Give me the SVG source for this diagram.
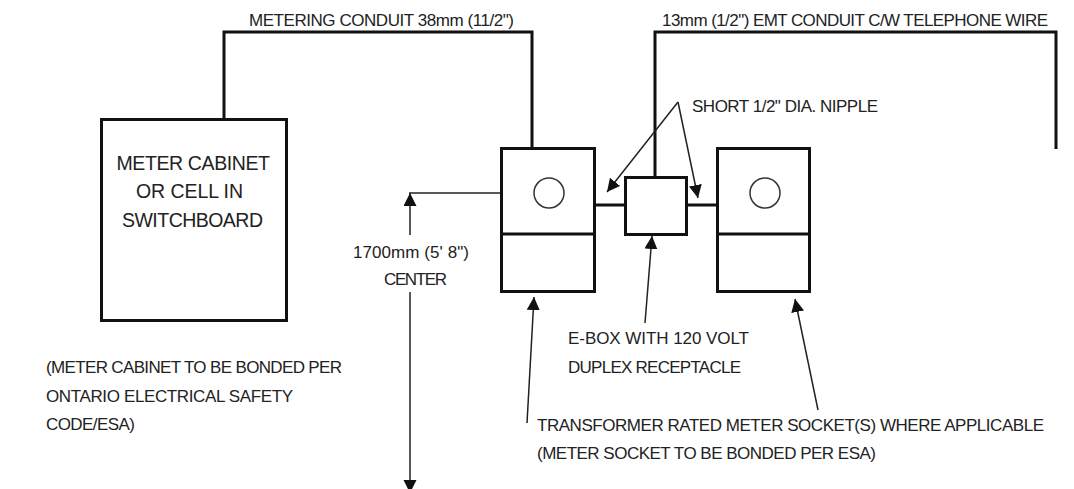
<svg xmlns="http://www.w3.org/2000/svg" width="1074" height="489" viewBox="0 0 1074 489">
<style>
text{font-family:"Liberation Sans",Arial,sans-serif;font-size:17px;fill:#222}
.big{font-size:19.500px}
.b{fill:#fff;stroke:#111;stroke-width:3}
.c{fill:none;stroke:#111;stroke-width:3}
.t{fill:none;stroke:#222;stroke-width:1.5}
.o{fill:#fff;stroke:#333;stroke-width:1.5}
</style>
<defs><marker id="a" markerUnits="userSpaceOnUse" markerWidth="14" markerHeight="14" refX="13" refY="6.500" orient="auto"><path d="M0 0L13 6.500L0 13z" fill="#111"/></marker></defs>
<rect width="1074" height="489" fill="#fff"/>
<g id="connectors">
<path class="c" d="M224 119V32H532V148"/>
<path class="c" d="M655 177V32H1056V149"/>
<path class="c" d="M595 205H625M687 205H717"/>
<path class="t" d="M501 193H409"/>
<path class="t" d="M410 235V193" marker-end="url(#a)"/>
<path class="t" d="M410 292V493" marker-end="url(#a)"/>
<path class="t" d="M678 102L607 192" marker-end="url(#a)"/>
<path class="t" d="M678 102L698 198" marker-end="url(#a)"/>
<path class="t" d="M645 323L652 236" marker-end="url(#a)"/>
<path class="t" d="M527 423L534 297" marker-end="url(#a)"/>
<path class="t" d="M818 410L795 299" marker-end="url(#a)"/>
</g>
<g id="meter-cabinet"><rect class="b" x="101.500" y="119.500" width="185" height="201"/>
<text class="big" x="116.500" y="169.500" textLength="153.500">METER CABINET</text>
<text class="big" x="136" y="198" textLength="107">OR CELL IN</text>
<text class="big" x="122" y="227" textLength="141">SWITCHBOARD</text></g>
<g id="socket-left"><rect class="b" x="501.500" y="148.500" width="93" height="143"/><path class="c" d="M501 234H595"/><circle class="o" cx="549" cy="193" r="15"/></g>
<g id="e-box"><rect class="b" x="625.500" y="177.500" width="61" height="57"/></g>
<g id="socket-right"><rect class="b" x="717.500" y="148.500" width="92" height="143"/><path class="c" d="M717 234H810"/><circle class="o" cx="765" cy="193" r="15"/></g>
<g id="labels">
<text x="249" y="26" textLength="265">METERING CONDUIT 38mm (11/2")</text>
<text x="662" y="26" textLength="386">13mm (1/2") EMT CONDUIT C/W TELEPHONE WIRE</text>
<text x="692" y="112" textLength="186">SHORT 1/2" DIA. NIPPLE</text>
<text x="353" y="258" textLength="116">1700mm (5' 8")</text>
<text x="384" y="285" textLength="63">CENTER</text>
<text x="568" y="344" textLength="181">E-BOX WITH 120 VOLT</text>
<text x="568" y="373" textLength="173">DUPLEX RECEPTACLE</text>
<text x="46" y="373" textLength="296">(METER CABINET TO BE BONDED PER</text>
<text x="46" y="402" textLength="247">ONTARIO ELECTRICAL SAFETY</text>
<text x="46" y="430" textLength="89">CODE/ESA)</text>
<text x="537" y="431" textLength="507">TRANSFORMER RATED METER SOCKET(S) WHERE APPLICABLE</text>
<text x="537" y="459" textLength="339">(METER SOCKET TO BE BONDED PER ESA)</text>
</g>
</svg>
